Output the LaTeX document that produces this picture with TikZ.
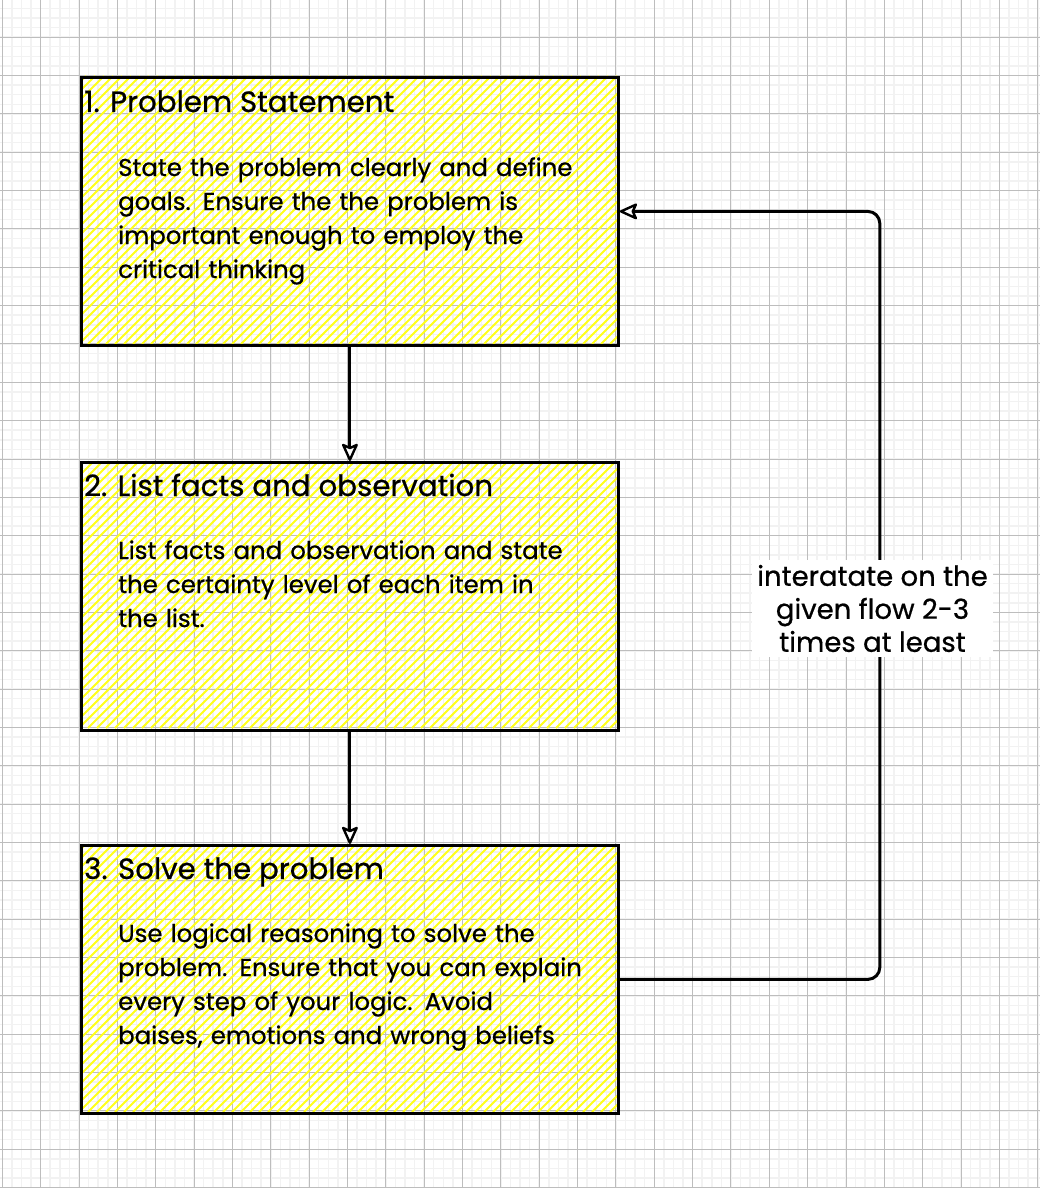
\documentclass[tikz,border=0pt]{standalone}
\usepackage{fontspec}
\setmainfont{Poppins}[FakeBold=0.7]
\usetikzlibrary{arrows.meta}
\definecolor{hatchc}{HTML}{FFFF1A}
\definecolor{gridmaj}{HTML}{BDBDBD}
\definecolor{gridmin}{HTML}{F2F2F2}
\newcommand\myhatch[4]{%
  \begin{scope}
    \clip (#1,#2) rectangle (#3,#4);
    \pgfmathsetmacro\hh{#4-#2}
    \foreach \xx in {-280,-271,...,545} {\draw[hatchline] (#1+\xx,#4) -- ++(\hh,-\hh);}
  \end{scope}}
\begin{document}
\begin{tikzpicture}[x=1pt,y=-1pt,
  hatchline/.style={hatchc, line width=2pt},
  stepbox/.style={draw, line width=2.8pt, minimum width=537pt, minimum height=268pt, inner sep=0pt, anchor=north west},
  titletxt/.style={anchor=base west, inner sep=0pt, font=\fontsize{29.3}{34}\selectfont},
  bodytxt/.style={anchor=base west, inner sep=0pt, text width=500pt, align=left, font=\fontsize{24.4}{34}\selectfont},
  conn/.style={line width=3pt, -{Stealth[length=20pt, width=18pt, inset=4pt, line width=2.4pt, fill=white, round]}},
  lbl/.style={fill=white, inner sep=0pt, minimum width=241pt, minimum height=97pt, align=center, font=\fontsize{27.5}{33}\selectfont}
]
\useasboundingbox (0,0) rectangle (1040,1188);
\fill[white] (0,0) rectangle (1040,1188);
% grid
\foreach \i in {0,...,109} {\draw[gridmin, line width=1.5pt] ({2.3+9.5875*\i},0) -- ++(0,1188);}
\foreach \i in {0,...,125} {\draw[gridmin, line width=1.5pt] (0,{-1.2+9.5875*\i}) -- ++(1040,0);}
\foreach \i in {0,...,27} {\draw[gridmaj, line width=1pt] ({2.3+38.35*\i},0) -- ++(0,1188);}
\foreach \i in {0,...,31} {\draw[gridmaj, line width=1pt] (0,{-1.2+38.35*\i}) -- ++(1040,0);}
% hatching
\myhatch{80}{76}{617}{344}
\myhatch{80}{461}{617}{728}
\myhatch{80}{844}{617}{1112}
% boxes
\node[stepbox] (b1) at (80,76) {};
\node[stepbox] (b2) at (80,461) {};
\node[stepbox] (b3) at (80,844) {};
% texts
\node[titletxt] (t1) at (84,112) {1. Problem Statement};
\node[bodytxt] (d1) at (118,176) {State the problem clearly and define\\goals. Ensure the the problem is\\important enough to employ the\\critical thinking};
\node[titletxt] (t2) at (84,496) {2. List facts and observation};
\node[bodytxt] (d2) at (118,559) {List facts and observation and state\\the certainty level of each item in\\the list.};
\node[titletxt] (t3) at (84,879) {3. Solve the problem};
\node[bodytxt] (d3) at (118,942) {Use logical reasoning to solve the\\problem. Ensure that you can explain\\every step of your logic. Avoid\\baises, emotions and wrong beliefs};
% connectors
\draw[conn] (b1.south) -- (b2.north);
\draw[conn] (b2.south) -- (b3.north);
\draw[conn, rounded corners=12pt] (b3.east) -- ++(260,0) |- (b1.east);
\node[lbl] (lab) at (872.5,608.5) {interatate on the\\given flow 2-3\\times at least};
\end{tikzpicture}
\end{document}
